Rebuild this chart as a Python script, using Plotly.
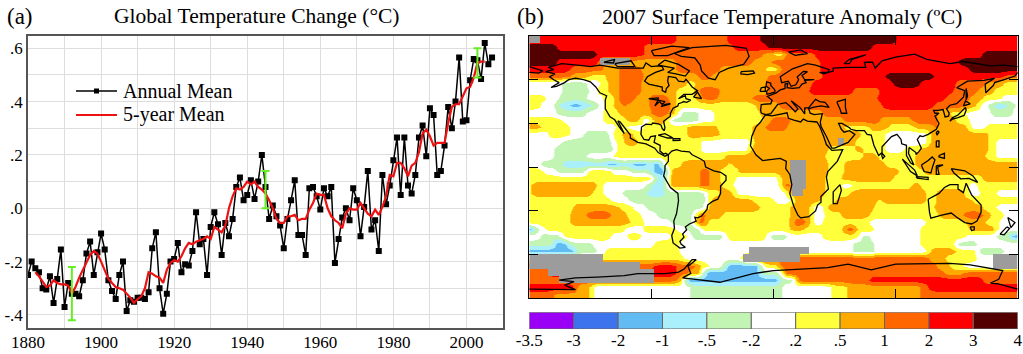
import re
import plotly.graph_objects as go

W, H = 1023, 354
SERIF = "Liberation Serif"

# ---------- panel (a) data ----------
years = list(range(1880, 2008))
annual = [-.25,-.20,-.225,-.24,-.30,-.305,-.255,-.355,-.265,-.155,-.37,-.28,-.32,-.32,-.33,-.27,-.17,-.125,-.25,-.165,
          -.095,-.155,-.27,-.31,-.34,-.25,-.20,-.385,-.345,-.35,-.335,-.335,-.34,-.315,-.15,-.09,-.30,-.395,-.32,-.20,
          -.19,-.13,-.24,-.21,-.215,-.16,-.015,-.135,-.115,-.25,-.07,-.015,-.06,-.175,-.055,-.105,-.04,.08,.115,.03,
          .05,.105,.035,.10,.20,.08,-.04,.01,-.03,-.065,-.15,-.04,.03,.105,-.10,-.10,-.175,.075,.08,.045,
          -.005,.075,.045,.08,-.205,-.115,-.035,0,-.045,.075,.03,-.105,.005,.14,-.08,-.045,-.16,.125,.015,.085,
          .18,.265,.05,.265,.085,.055,.125,.265,.31,.195,.375,.35,.125,.14,.235,.38,.30,.40,.565,.325,
          .33,.48,.56,.555,.485,.62,.54,.565]
mean_years = list(range(1882, 2006))
mean5 = [-.24,-.255,-.275,-.295,-.29,-.27,-.28,-.285,-.285,-.29,-.32,-.295,-.26,-.23,-.20,-.175,-.16,-.17,
         -.20,-.23,-.265,-.28,-.295,-.30,-.305,-.32,-.335,-.355,-.34,-.33,-.30,-.24,-.245,-.255,-.26,-.28,-.23,-.205,
         -.195,-.20,-.18,-.15,-.13,-.135,-.125,-.12,-.115,-.105,-.115,-.07,-.08,-.09,-.065,0,.045,.075,.07,.08,
         .10,.09,.10,.08,.07,.055,.03,.0,-.04,-.055,-.055,-.03,-.03,-.025,-.045,-.04,-.04,-.005,.02,.055,
         .05,.05,0,-.03,-.045,-.055,-.075,-.02,0,-.005,-.005,.02,0,-.02,-.03,-.005,-.025,.005,.045,.125,
         .12,.17,.17,.15,.12,.16,.17,.21,.28,.295,.27,.235,.245,.245,.245,.32,.38,.39,.39,.42,
         .45,.455,.49,.545,.55,.55]
err_years = [1892, 1945, 2003]
err_mid = [-.32, .07, .545]
err_half = [.10, .07, .055]

# ---------- panel (b) data: class of each 5-degree latitude band, "class + longitude where it starts" ----------
classes = ["-3.5","-3","-2","-1","-.5","-.2",".2",".5","1","2","3","4"]
class_colors = ["#9a00f5","#3d74ee","#62bcf3","#a9effc","#c2f5b4","#ffffff","#ffff3c","#ffaa00","#ff6600","#ff0000","#550000"]
class_codes = "PBSCGWYODRK"
missing_color = "#9c9c9c"
band_lats = [87.5-5*i for i in range(36)]
bands = [
 "#-180 R-171 D-71 R-33 K-10 R91",
 "K-180 R-160 D-95 R-30 K-3 R72",
 "K-180 R-130 D-95 O-8 Y0 D8 R30 K154",
 "K-180 R-160 #-127 O-105 D-72 O-15 D-2 R34 K137",
 "R-180 D-150 O-125 D-113 O-98 D-71 O-40 Y-5 D5 R34 K145",
 "D-180 O-150 Y-135 O-123 D-113 O-95 D-55 O-45 D-3 R36 K83 R118 D170",
 "W-180 G-155 W-138 Y-128 O-122 D-113 O-98 Y-64 O-58 D-5 R29 K88 R108 D135 O157 Y170",
 "W-180 G-155 W-135 Y-130 O-121 D-114 O-98 Y-72 O-57 D-55 O-40 D-3 R27 D59 R78 D132 O150 Y162",
 "Y-180 W-168 G-158 W-137 Y-125 D-116 O-101 D-91 O-78 Y-72 O-57 D-52 O-42 D-15 R76 D127 O145 Y155 W168",
 "Y-180 W-172 G-162 C-157 S-150 C-142 G-134 W-128 Y-125 O-118 D-112 O-107 D-92 O-76 Y-72 O-14 D5 R81 D118 O142 Y150 W153 G158 C162 G172 W178",
 "W-180 G-160 W-137 Y-125 O-113 D-90 O-78 W-72 G-68 W-55 Y-44 O-10 D37 O120 Y130 W143 G160 W176",
 "Y-180 W-155 Y-125 O-108 W-98 O-90 W-77 G-75 W-56 Y-44 O-8 D-2 O12 D52 O78 D103 O120 Y135 W145",
 "O-180 Y-172 W-150 Y-115 W-107 Y-95 O-63 Y-41 O-15 D-5 O11 Y53 O71 Y85 O105 D118 O122 W145 Y157",
 "W-180 Y-165 W-150 G-140 Y-120 O-112 Y-104 O-63 Y-40 O-15 Y64 W82 O115 Y158",
 "W-180 G-155 W-120 Y-115 O-110 Y-100 W-54 O-15 #49 O53 Y60 W82 O115 Y158 W165",
 "W-180 G-162 W-118 Y-115 W-54 O-17 Y40 O60 Y66 W82 Y96 O108 Y158 W165",
 "W-180 G-162 W-138 Y-118 O-35 Y39 O66 Y76 O105 Y157 W164",
 "W-180 G-172 C-155 S-122 C-115 S-103 C-93 S-88 Y-81 O-67 Y-34 O-30 #12 O24 Y41 O52 Y82 O105",
 "Y-180 W-170 G-160 Y-138 W-120 G-105 S-90 O-78 D-54 O-47 Y-40 O-25 #12 O24 Y41 O52 Y92 O110",
 "Y-180 C-88 O-77 D-54 O-47 Y-39 W-27 O5 #12 O24 Y39 O51 Y88 O155",
 "Y-180 O-177 Y-130 W-125 G-93 C-89 G-79 O-77 D-54 O-47 Y-37 W-30 D7 O12 #14 O24 Y39 W51 Y59 O103 Y108 W145 Y150",
 "Y-180 O-177 Y-133 W-125 G-111 C-93 G-79 Y-49 O-39 Y-30 W-27 O10 #14 O23 Y39 O56 Y113 O120 W142 Y152 W165",
 "Y-180 W-120 Y-110 G-108 O-47 Y-15 W0 O15 Y34 O46 Y76 O81 Y113 O120 Y147 W155 Y157",
 "Y-180 O-148 Y-113 W-103 G-93 O-49 Y-10 O12 W29 O39 Y74 O118 Y155 W165",
 "Y-180 O-150 D-138 O-120 Y-108 W-98 G-86 O-57 D-54 O-49 Y-37 O12 W29 Y39 O51 Y71 O123 D140 O155 Y160 W170",
 "Y-180 O-150 Y-106 W-96 G-76 D-57 Y-49 O12 D14 O24 W29 Y37 W71 Y113 O143 Y157 W167",
 "S-180 W-176 Y-167 W-110 Y-96 W-71 G-64 Y-54 O12 Y22 D52 Y61 W74 Y108 O145 W165",
 "W-180 G-172 Y-155 W-120 Y-108 W-98 Y-76 W-64 G-59 Y-35 G-3 W10 Y37 G64 W71 Y108 W142 G164 S174",
 "G-180 S-162 G-152 W-133 Y-88 W-69 G59 W74 Y108 G135 W150",
 "S-180 G-145 W-130 Y-123 W-69 #-17 W27 G59 W74 O115 Y135 G150 W170",
 "#-180 Y-125 W-65 #-22 D20 O115 Y127 W150 #162",
 "#-180 D-98 R-88 D-71 O-57 Y-54 W-47 S-35 W-10 Y-8 D5 O120 Y130 W140 #162",
 "D-180 #-165 R-88 D-71 O-64 Y-53 S-52 G-10 O7 D8 O127 D140",
 "D-180 #-157 D-88 O-71 S-66 G5 D17 R71 D155",
 "R-180 O-146 W-134 G-62 W7 Y43 O54 D108 R115",
 "D-180 O-162 W-134 G-62 W7 Y43 O54 D108",
]

coast_lines = [
 "-168,65.5 -162,67 -166,68.5 -156,71 -141,69.7 -135,69 -128,70 -115,68 -108,68 -96,68 -94,71.5 -90,69 -85,69.5 -82,69 -81,67 -87,65 -93,62 -95,59 -92,57 -85,55.3 -82,55 -82,52.5 -79.5,51.3 -79,54 -77,56 -78,59 -77.5,62.3 -72,61.5 -70,59 -66,58.5 -64.5,60.3 -62,57.5 -60,55 -56,52.5 -60,50 -66,50 -70,47 -65,49 -64.5,47 -61,46 -64,44.5 -66.5,45 -67,44.5 -70,43.5 -70.5,42 -74,40.5 -76,37 -76,35 -81,31.5 -80,27 -80.5,25 -82,26.5 -83,29 -85,29.7 -89,30.3 -90,29.2 -94,29.5 -97.3,27.5 -97.7,22.5 -95.5,19 -92,18.5 -90.5,21 -87,21.5 -88,17 -83.5,15 -83.7,11 -81,9 -79.5,9.5 -77.5,8.5 -80,7.5 -85,10 -87.5,13 -94,16 -100,17 -105.5,20 -105.5,22 -109,26 -113,31 -114.7,31.7 -112,27 -110,23 -114,28 -117,32.5 -120.5,34.5 -124,40 -124,46 -123,49 -128,51 -131,55 -135,58.5 -140,60 -146,61 -151,60 -154,58 -160,55.5 -164,54.7 -158,58 -162,60 -165,62 -161,64 -168,65.5",
 "-77.5,8.5 -75,11 -71.5,12 -68,11 -62,10.5 -60,8.5 -54,5.8 -51,4 -50,0 -44,-2.5 -39,-3.5 -35,-6 -35,-9 -39,-13 -39,-18 -41,-22 -45,-23.5 -48.5,-26 -49,-29 -53,-33.5 -56,-34.8 -58,-34.5 -57,-37 -62,-39 -65,-41 -64,-43 -67,-46 -66,-48 -69,-51 -68,-53 -65,-55 -69,-55.5 -74,-52 -75,-47 -73,-42 -73.5,-37 -71.5,-32 -70,-23 -70.5,-18 -76,-14 -81,-6 -80,-2 -80,1 -77.5,4 -77.5,8.5",
 "-6,35.8 -1,35.2 10,37.3 11,33.5 15,32.3 20,31 22,33 25,31.6 32,31 34,28 37,21 39,15.5 43,11.5 51,12 47,4 40,-3 39,-7 40.5,-15 35,-20 35,-24 32.5,-26 31,-30 26,-34 20,-34.8 18,-33 15,-27 12,-18 13.5,-12 12,-5 9,-1 9.5,4 5,6 -4,5 -8,4.5 -13,8.5 -17,14.7 -16,21 -13,27.5 -9.5,31 -6,35.8",
 "-9,37 -9.5,39 -9,43 -2,43.5 -1,46 -4.5,48.5 2,51 5,53 8.5,54 8.5,57 10.5,57.5 10,54.5 14,54 19,54.5 21,57 24,58 23,59.5 30,60 23,60 21,63 25,65.5 22,65.7 17.5,62 18.5,60 16.5,56.5 13,55.5 11,59 6,58 5,62 14,67.5 25,71 31,70 41,67 40,65 34,65 37,64 44,66 44,68 54,68.5 68,68.5 67,72 73,72 75,68 80,73 90,75.5 104,77.5 113,74 130,71 140,72.5 160,69.5 170,70 180,69",
 "-180,69 -175,67.5 -170,66 -173,64.5 -180,65",
 "180,65 178,62.5 170,60 163,58 162,56 156.5,51 156,57 163,61 155,59.5 143,59 135,54.5 141,52.5 140,48 135,43.5 130,42.5 127.5,40 129.5,37 129,35 126.5,34.5 126,37 125,39.5 121,39 118,39 119,37 122,37 119,35 122,30 120,26 114,22.5 110,21 108,21.5 106,19 109,13 107,10.5 105,8.7 105,10 100,13.5 99.5,9.5 103.5,1.5 101,3 98,8 98,15 94.5,16 94,19 91,22.5 87,21 82,16.5 80,14 80,10 77.5,8 74,15 72.8,20 72,22 69,22.5 67,25 61,25 57,26 56,27 50.5,30 48,30 50,26 52,24 56,25 60,22.5 55,17 45,13 43,13 39,21 35,28 34.5,31 36,36.7 30,36 27,37 26,40 29,41 35,42 41,41 38,44.5 34,45 31,46.5 28,43 26,40.8 23,40.5 23,36.5 19.5,41 13,45.5 18,40 16,38 12,42 9,44.3 3,43 0,39.5 -2,36.7 -5.5,36 -9,37",
 "47,45 53,46.5 53,41 54,37 50,37 49,40 47,44 47,45",
 "-73,78 -60,82 -35,83.5 -20,81.5 -18,76 -22,70.5 -33,68 -40,65 -43,60 -48,61 -53,66 -54,70 -58,75 -68,76 -73,78",
 "-90,80 -75,83 -62,82 -70,79 -78,76.5 -88,76.5 -90,80",
 "-80,73.5 -70,70.5 -62,66 -65,62.5 -72,64 -78,65 -73,68 -85,70 -80,73.5",
 "-117,71 -105,73 -102,69 -115,69 -117,71",
 "-125,72 -117,74 -118,71.5 -125,72",
 "-24,65.5 -15,66 -14,64.5 -19,63.5 -24,64 -24,65.5",
 "-5,50 1,51.5 1,53 -2,56 -2,57.6 -5,58.5 -5.5,55.5 -3,54 -5,52 -5,50",
 "-10,52 -6,52 -6,55 -9,54.5 -10,52",
 "11,79 20,80.5 25,78 16,76.7 11,79",
 "52,71 56,74 68,77 58,74 56,71 52,71",
 "142,54 143,49 142,46 142,50 142,54",
 "130,31.5 132,34 136,35.8 140,40 141.5,41 142,39 140.5,35.5 136,34 132,33 130,31.5",
 "140,42 141.5,45.5 145,43.5 141,42 140,42",
 "80,9.5 82,7.5 80.5,6 79.8,8 80,9.5",
 "95,5.5 104,-2 106,-6 101,-3 95,5.5",
 "105,-6.5 114,-7 114,-8.5 106,-7.5 105,-6.5",
 "109,1.5 114,4.5 117,7 119,5 117.5,1 116,-4 111,-3 109,1.5",
 "120,1 125,1.5 121,0 122,-5 120,-5 120,1",
 "131,-1 141,-2.5 147,-6 150.5,-10.5 144,-7.7 138,-8 133,-4 131,-1",
 "120,18 122,18 122,14 120,14 120,18",
 "122,8 126,9.5 126,6 122,7 122,8",
 "114,-22 122,-18 126,-14 130,-12 136,-12 136,-15 140,-17.5 142,-11 146,-19 153,-26 153,-31 150,-37 146,-39 141,-38 136,-35 131,-31.5 124,-33 116,-35 115,-31 114,-22",
 "145,-41 148,-41 148,-43 146,-43.5 145,-41",
 "172.7,-34.5 178,-38 175,-41.5 174,-39 172.7,-34.5",
 "172,-41 174,-42 170,-46.5 167,-46 172,-41",
 "49,-12 50,-16 47,-25 44,-25 44,-17 49,-12",
 "-85,22 -80,23 -74,20 -78,20 -85,22",
 "-74,19.5 -69,19.5 -69,18.3 -74,18.2 -74,19.5",
 "-59,48 -53,47 -56,51.5 -59,48",
 "-92,47 -85,47.5 -85,46 -88,46.5 -92,47",
 "-87.5,42 -85,46 -80,45 -82,43 -84,45 -86,43 -87.5,42",
 "-83,41.5 -76,43.5 -80,43 -83,41.5",
 "121,25 122,24 120.5,22 120,23.5 121,25",
 "-180,-83.7 -146,-84 -154,-81 -147,-78.5 -158,-77.5 -146,-76 -130,-75.5 -110,-74.5 -100,-73 -80,-73 -70,-72 -66,-70 -60,-63.5 -57,-63.5 -63,-68 -61,-73 -65,-75 -67,-76 -39.5,-79 -15,-73 0,-71 20,-70 40,-69 55,-66.5 70,-70 72,-70.5 90,-66.5 110,-66 130,-66 145,-67 165,-70 169,-71 166,-77 160,-79.5 165,-80 180,-83.7",
]

# ---------- build grid from the reading above ----------
cell_lons = [-179 + 2*i for i in range(180)]
grid, mask = [], []
for band in bands:
    parts = [(m[0], float(m[1])) for m in re.findall(r"([A-Z#])(-?\d+)", band)]
    row, grey = [], []
    for lon in cell_lons:
        code = parts[0][0]
        for c, start in parts:
            if start <= lon:
                code = c
        if code == "#":
            grey.append(1)
            row.append(None)
        else:
            grey.append(None)
            row.append(class_codes.index(code))
    for i in range(len(row)):
        if row[i] is None:
            j = i
            while j < len(row) and row[j] is None:
                j += 1
            row[i] = row[j] if j < len(row) else (row[i-1] if i else 5)
    # soften the hand-read class edges along the band so the filled classes read as contours
    for _ in range(2):
        m = len(row)
        row = [(row[max(i-1, 0)] + row[i] + row[min(i+1, m-1)]) / 3 for i in range(m)]
    grid.append(row); mask.append(grey)

coast_x, coast_y = [], []
for line in coast_lines:
    for pair in line.split():
        a, b = pair.split(",")
        coast_x.append(float(a)); coast_y.append(float(b))
    coast_x.append(None); coast_y.append(None)

n = len(class_colors)
scale = []
for i, c in enumerate(class_colors):
    scale += [[i/n, c], [(i+1)/n, c]]

fig = go.Figure()
# panel (a)
fig.add_trace(go.Scatter(x=years, y=annual, mode="lines+markers", name="Annual Mean",
                         line=dict(color="black", width=1.5), marker=dict(symbol="square", size=6, color="black"),
                         xaxis="x", yaxis="y"))
fig.add_trace(go.Scatter(x=mean_years, y=mean5, mode="lines", name="5-year Mean",
                         line=dict(color="#ee1111", width=2.2), xaxis="x", yaxis="y"))
fig.add_trace(go.Scatter(x=err_years, y=err_mid, mode="markers", marker=dict(size=1, color="#66ee22"),
                         error_y=dict(type="data", array=err_half, color="#66ee22", thickness=2, width=4),
                         xaxis="x", yaxis="y"))
# panel (b)
fig.add_trace(go.Heatmap(x=cell_lons, y=band_lats, z=grid, zmin=-0.5, zmax=n-0.5, colorscale=scale, zsmooth="best",
                         showscale=False, hoverinfo="skip", xaxis="x2", yaxis="y2"))
fig.add_trace(go.Heatmap(x=cell_lons, y=band_lats, z=mask, zmin=0, zmax=2, showscale=False, hoverinfo="skip",
                         colorscale=[[0, missing_color], [1, missing_color]], xaxis="x2", yaxis="y2"))
fig.add_trace(go.Scatter(x=coast_x, y=coast_y, mode="lines", line=dict(color="black", width=1.3),
                         hoverinfo="skip", xaxis="x2", yaxis="y2"))
# class bar
fig.add_trace(go.Bar(x=[i+0.5 for i in range(n)], y=[1]*n, width=1, marker=dict(color=class_colors, line=dict(color="#666666", width=1)),
                     hoverinfo="skip", xaxis="x3", yaxis="y3"))

def dx(a, b): return [a/W, b/W]
def dy(top, bottom): return [1-bottom/H, 1-top/H]
def px(x): return x/W
def py(y): return 1-y/H
font = dict(family=SERIF, size=17, color="black")

def note(text, x, y, size, anchor="left"):
    return dict(text=text, x=px(x), y=py(y), xref="paper", yref="paper", xanchor=anchor, yanchor="middle",
                showarrow=False, font=dict(family=SERIF, size=size, color="black"))

fig.update_layout(
    width=W, height=H, margin=dict(l=0, r=0, t=0, b=0), paper_bgcolor="white", plot_bgcolor="white",
    font=font, showlegend=False, barmode="overlay",
    xaxis=dict(domain=dx(28, 503), range=[1880, 2010], tickvals=list(range(1880, 2010, 20)), showgrid=True, automargin=False,
               minor=dict(tickvals=list(range(1880, 2011, 10)), showgrid=True, gridcolor="#dddddd", ticks=""),
               gridcolor="#dddddd", showline=True, mirror=True, linecolor="#555555", linewidth=1.5, ticks="", zeroline=False, anchor="y", ticklabelstandoff=-2),
    yaxis=dict(domain=dy(35.7, 328.3), range=[-.45, .647], tickvals=[-.4, -.2, 0, .2, .4, .6], automargin=False,
               ticktext=["-.4", "-.2", ".0", ".2", ".4", ".6"], showgrid=True, gridcolor="#dddddd",
               minor=dict(tickvals=[-.4+.1*i for i in range(11)], showgrid=True, gridcolor="#dddddd", ticks=""),
               showline=True, mirror=True, linecolor="#555555", linewidth=1.5, ticks="", zeroline=False, anchor="x"),
    xaxis2=dict(domain=dx(529.3, 1017.7), range=[-180, 180], tickvals=[-90, 0, 90], ticks="inside", ticklen=9, tickcolor="black", automargin=False,
                showticklabels=False, showgrid=False, zeroline=False, showline=True, mirror="ticks", linecolor="black", linewidth=1, anchor="y2"),
    yaxis2=dict(domain=dy(36, 298.3), range=[-90, 90], tickvals=[-60, -30, 0, 30, 60], ticks="inside", ticklen=9, tickcolor="black", automargin=False,
                showticklabels=False, showgrid=False, zeroline=False, showline=True, mirror="ticks", linecolor="black", linewidth=1, anchor="x2"),
    xaxis3=dict(domain=dx(529.3, 1017.7), range=[0, n], tickvals=list(range(n+1)), ticktext=classes, ticks="", showgrid=False, automargin=False,
                zeroline=False, showline=False, anchor="y3", ticklabelstandoff=-1),
    yaxis3=dict(domain=dy(312.3, 329), range=[0, 1], showticklabels=False, showgrid=False, zeroline=False, anchor="x3", automargin=False),
    annotations=[
        note("(a)", 5, 16, 23),
        note("Global Temperature Change (°C)", 257, 16, 21.5, "center"),
        note("(b)", 515, 16, 23),
        note("2007 Surface Temperature Anomaly (ºC)", 782, 16, 22, "center"),
        note("Annual Mean", 121, 91, 20),
        note("5-year Mean", 121, 115, 20),
    ],
    shapes=[
        dict(type="line", xref="paper", yref="paper", x0=px(76), x1=px(117), y0=py(91), y1=py(91), line=dict(color="black", width=1.5)),
        dict(type="rect", xref="paper", yref="paper", x0=px(94), x1=px(99), y0=py(88.5), y1=py(93.5), fillcolor="black", line=dict(width=0)),
        dict(type="line", xref="paper", yref="paper", x0=px(76), x1=px(117), y0=py(115), y1=py(115), line=dict(color="#ee1111", width=2.2)),
    ],
)
fig.write_html("out.html", config={"displayModeBar": False, "responsive": False}, post_script="document.body.style.margin='0';")
